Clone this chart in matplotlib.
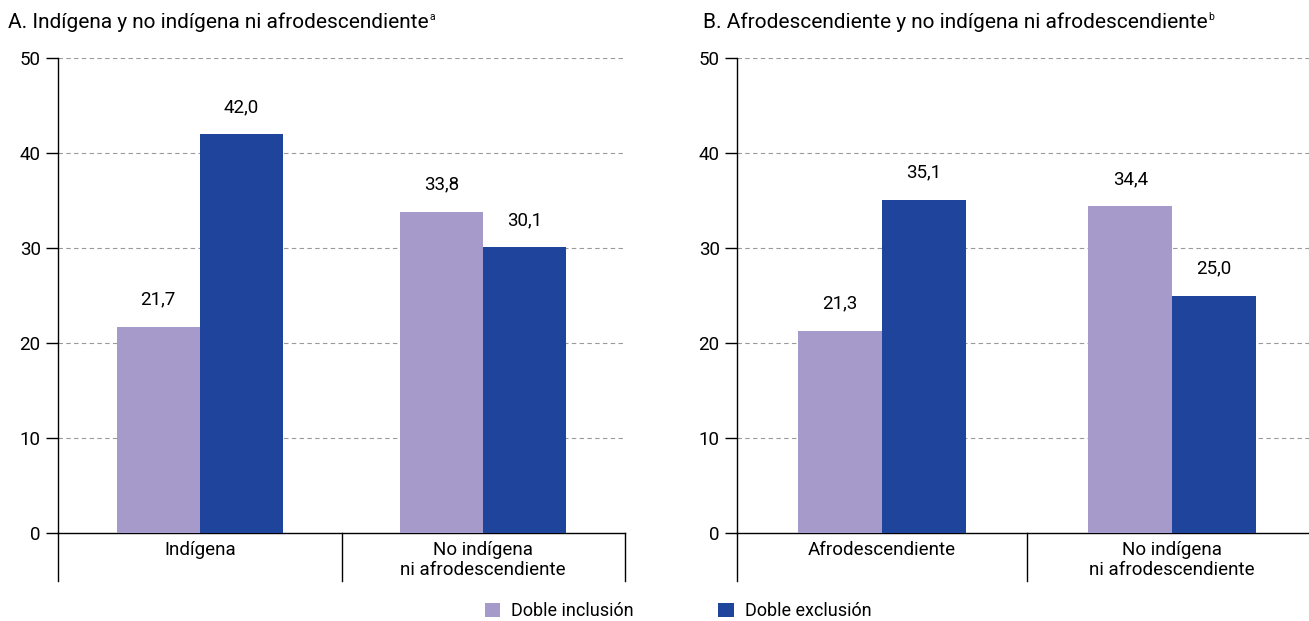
import matplotlib
matplotlib.use("Agg")
import matplotlib.pyplot as plt
from matplotlib.patches import Patch

plt.rcParams["font.family"] = ["Liberation Sans Narrow", "Roboto", "DejaVu Sans"]

series_names = ["Doble inclusión", "Doble exclusión"]
colors = ["#A59ACA", "#1F449C"]

cats_a = ["Indígena", "No indígena\nni afrodescendiente"]
incl_a = [21.7, 33.8]
excl_a = [42.0, 30.1]

cats_b = ["Afrodescendiente", "No indígena\nni afrodescendiente"]
incl_b = [21.3, 34.4]
excl_b = [35.1, 25.0]

title_a = "A. Indígena y no indígena ni afrodescendiente"
title_b = "B. Afrodescendiente y no indígena ni afrodescendiente"
yticks = [0, 10, 20, 30, 40, 50]

W, H = 1309, 621
fig = plt.figure(figsize=(W / 100, H / 100), dpi=100)


def fmt(v):
    return f"{v:.1f}".replace(".", ",")


def panel(rect, cats, incl, excl, bw):
    ax = fig.add_axes(rect)
    xs = [i + 0.5 for i in range(len(cats))]
    for vals, off, col in [(incl, -bw / 2, colors[0]), (excl, bw / 2, colors[1])]:
        bars = ax.bar([x + off for x in xs], vals, width=bw, color=col, zorder=3)
        for b, v in zip(bars, vals):
            ax.annotate(fmt(v), (b.get_x() + b.get_width() / 2, v),
                        xytext=(0, 13), textcoords="offset points",
                        ha="center", va="bottom", fontsize=13.5)
    ax.set_xlim(0, len(cats))
    ax.set_ylim(0, 50)
    ax.set_yticks(yticks)
    ax.set_yticklabels([str(t) for t in yticks], fontsize=13.5)
    ax.set_xticks(xs)
    ax.set_xticklabels(cats, fontsize=13.5, linespacing=1.15)
    ax.tick_params(axis="x", length=0, pad=6)
    ax.tick_params(axis="y", length=8.5, width=1, pad=4, direction="out")
    for t in yticks[1:]:
        ax.axhline(t, color="#9a9a9a", lw=0.8, ls=(0, (4, 3)), zorder=1)
    for s in ["top", "right"]:
        ax.spines[s].set_visible(False)
    ax.spines["left"].set_linewidth(1)
    ax.spines["bottom"].set_linewidth(1)
    # category separators below the axis
    tr = ax.get_xaxis_transform()
    for x in range(len(cats) + 1):
        ax.plot([x, x], [0, -0.1], transform=tr, color="black", lw=1, clip_on=False)
    return ax


y0 = (H - 533) / H
h = (533 - 58) / H
panel([58 / W, y0, 567 / W, h], cats_a, incl_a, excl_a, 0.293)
panel([737 / W, y0, 580 / W, h], cats_b, incl_b, excl_b, 0.288)

ta = fig.text(8 / W, 1 - 22 / H, title_a, fontsize=15, va="center", ha="left")
tb = fig.text(703 / W, 1 - 22 / H, title_b, fontsize=15, va="center", ha="left")
fig.canvas.draw()
r = fig.canvas.get_renderer()
for t, sup in [(ta, "a"), (tb, "b")]:
    bb = t.get_window_extent(r)
    fig.text(bb.x1 / W + 1 / W, 1 - 17 / H, sup, fontsize=7.5, va="center", ha="left")

handles = [Patch(facecolor=c, edgecolor="none") for c in colors]
fig.legend(handles, series_names, loc="center", bbox_to_anchor=(678 / W, 1 - 611 / H),
           ncol=2, frameon=False, fontsize=13, handlelength=0.85, handleheight=0.85,
           handletextpad=0.6, columnspacing=4.7, borderpad=0, borderaxespad=0)

fig.savefig("out.png", dpi=100)
